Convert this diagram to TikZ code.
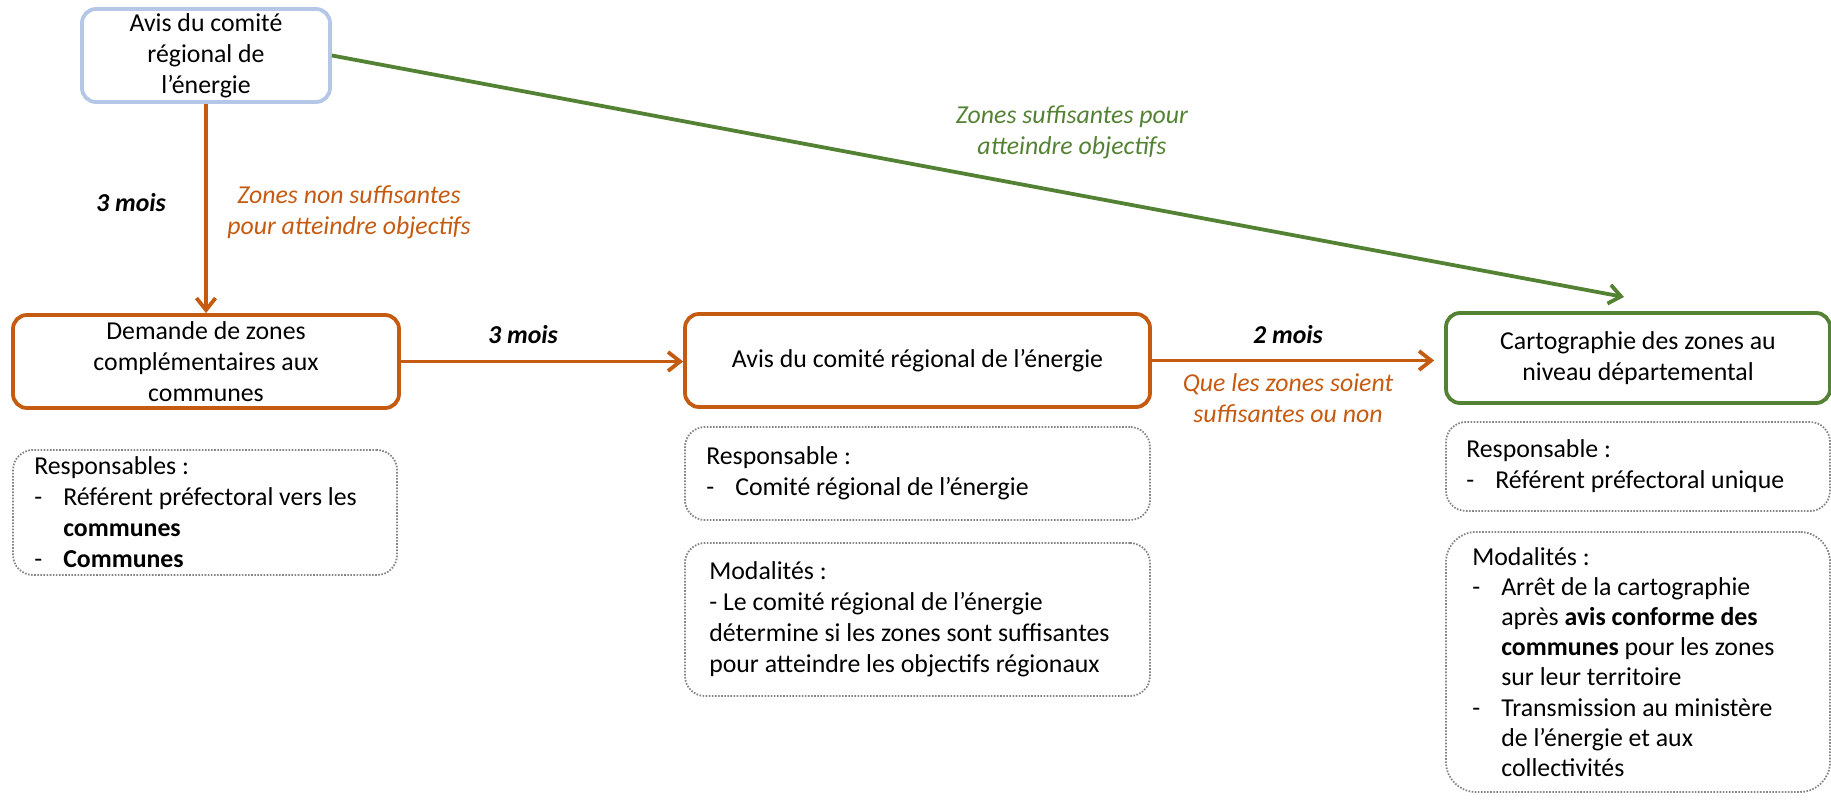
\documentclass[tikz,border=0pt]{standalone}
\usepackage{fontspec}
\setmainfont{Carlito}
\usetikzlibrary{arrows.meta}
\definecolor{orng}{HTML}{C55A11}
\definecolor{grn}{HTML}{548235}
\definecolor{lblue}{HTML}{B4C7E7}
\definecolor{dotgray}{HTML}{858585}
\newcommand{\dashitem}[1]{\makebox[29pt][l]{-}#1}
\newcommand{\contline}[1]{\hspace*{29pt}#1}
\begin{document}
\begin{tikzpicture}[x=1pt,y=-1pt,
  txt/.style={font=\fontsize{25.8}{31}\selectfont},
  box/.style={txt, draw, line width=3.8pt, rounded corners=14pt, align=center, inner sep=0pt},
  obox/.style={box, draw=orng},
  dbox/.style={draw=dotgray, line width=1.8pt, dash pattern=on 1.6pt off 1.5pt, rounded corners=20pt, inner sep=0pt},
  dtext/.style={txt, align=left, inner sep=0pt, anchor=west},
  arr/.style={line width=3.8pt, -{Straight Barb[length=12pt,width=19pt]}},
  lab/.style={font=\fontsize{25.8}{31}\selectfont\itshape, align=center, inner sep=0pt},
  mois/.style={font=\fontsize{25.8}{31}\selectfont\bfseries\itshape, inner sep=0pt},
]
\useasboundingbox (0,0) rectangle (1831,810);

% main boxes
\node[box, draw=lblue, minimum width=248pt, minimum height=93pt] (top) at (206,55.5) {Avis du comité\\régional de\\l’énergie};
\node[obox, minimum width=386pt, minimum height=93pt] (dem) at (206,361.5) {Demande de zones\\complémentaires aux\\communes};
\node[obox, minimum width=465pt, minimum height=93pt] (mid) at (917.5,360.5) {Avis du comité régional de l’énergie};
\node[box, draw=grn, minimum width=384pt, minimum height=90pt] (right) at (1638,358) {Cartographie des zones au\\niveau départemental};

% dotted boxes
\node[dbox, minimum width=384pt, minimum height=125pt] (r1) at (205,512.5) {};
\node[dtext] (r1t) at ([xshift=22pt]r1.west) {Responsables :\\\dashitem{Référent préfectoral vers les}\\\contline{\textbf{communes}}\\\dashitem{\textbf{Communes}}};

\node[dbox, minimum width=465pt, minimum height=93pt] (r2) at (917.5,473.5) {};
\node[dtext] (r2t) at ([xshift=22pt]r2.west) {Responsable :\\\dashitem{Comité régional de l’énergie}};

\node[dbox, minimum width=465pt, minimum height=153pt] (m2) at (917.5,619.5) {};
\node[dtext] (m2t) at ([xshift=25pt]m2.west) {Modalités :\\- Le comité régional de l’énergie\\détermine si les zones sont suffisantes\\pour atteindre les objectifs régionaux};

\node[dbox, minimum width=384pt, minimum height=89pt] (r3) at (1638,466.5) {};
\node[dtext] (r3t) at ([xshift=21pt]r3.west) {Responsable :\\\dashitem{Référent préfectoral unique}};

\node[dbox, minimum width=384pt, minimum height=260pt, rounded corners=30pt] (m3) at (1638,662) {};
\node[dtext, font=\fontsize{25.8}{30.2}\selectfont] (m3t) at ([xshift=27pt]m3.west) {Modalités :\\\dashitem{Arrêt de la cartographie}\\\contline{après \textbf{avis conforme des}}\\\contline{\textbf{communes} pour les zones}\\\contline{sur leur territoire}\\\dashitem{Transmission au ministère}\\\contline{de l’énergie et aux}\\\contline{collectivités}};

% labels
\node[mois] (m3a) at (131,203) {3 mois};
\node[lab, text=orng] (l1) at (349,212) {Zones non suffisantes\\pour atteindre objectifs};
\node[mois] (m3b) at (523,335) {3 mois};
\node[mois] (m2a) at (1288,335) {2 mois};
\node[lab, text=orng] (l2) at (1288,398) {Que les zones soient\\suffisantes ou non};
\node[lab, text=grn] (l3) at (1072,132) {Zones suffisantes pour\\atteindre objectifs};

% connectors
\coordinate (gtip) at (1624,297);
\draw[arr, draw=orng] (top.south) -- (dem.north);
\draw[arr, draw=orng] (dem.east) -- (dem.east -| mid.west);
\draw[arr, draw=orng, shorten >=10pt] (mid.east) -- (mid.east -| right.west);
\draw[arr, draw=grn] (top.east) -- (gtip);
\end{tikzpicture}
\end{document}
